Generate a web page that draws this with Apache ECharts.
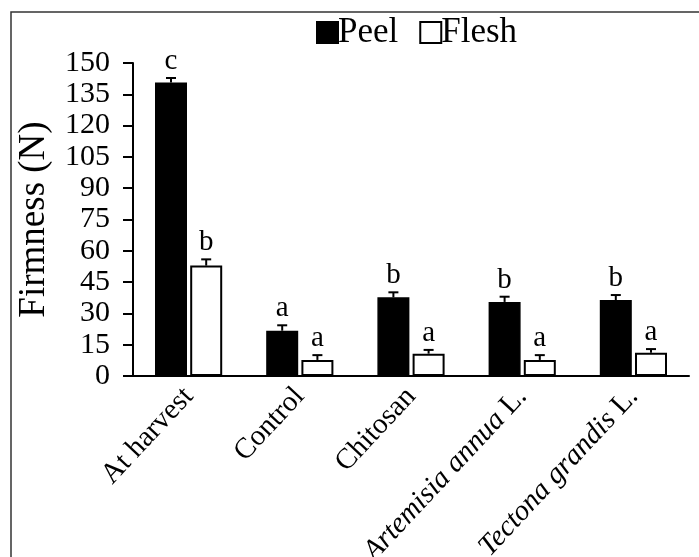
<!DOCTYPE html>
<html>
<head>
<meta charset="utf-8">
<script src="https://cdn.jsdelivr.net/npm/echarts@6/dist/echarts.min.js"></script>
<style>html,body{margin:0;padding:0;background:#fff}#c{width:699px;height:557px}</style>
</head>
<body>
<div id="c"></div>
<script>
const categories = ['At harvest', 'Control', 'Chitosan', 'Artemisia annua L.', 'Tectona grandis L.'];
const peelValues = [140.7, 21.7, 37.7, 35.5, 36.4];
const fleshValues = [52.9, 7.7, 10.7, 7.7, 11.2];
const peelErrors = [2.1, 2.6, 2.4, 2.5, 2.4];
const fleshErrors = [3.0, 2.3, 1.8, 2.3, 1.7];
const peelLetters = ['c', 'a', 'b', 'b', 'b'];
const fleshLetters = ['b', 'a', 'a', 'a', 'a'];
const yTicks = { min: 0, max: 150, interval: 15 };

const FONT = 'Liberation Serif';
const BAR_W = 32;
const GAP = 3.2;
const OFF = (BAR_W + GAP) / 2;

function errRender(offset, letters) {
  return function (params, api) {
    const i = api.value(0), v = api.value(1), e = api.value(2);
    const base = api.coord([i, v]);
    const top = api.coord([i, v + e]);
    const x = base[0] + offset;
    return {
      type: 'group',
      children: [
        { type: 'line', shape: { x1: x, y1: base[1], x2: x, y2: top[1] }, style: { stroke: '#000', lineWidth: 2 } },
        { type: 'line', shape: { x1: x - 5, y1: top[1], x2: x + 5, y2: top[1] }, style: { stroke: '#000', lineWidth: 2 } },
        { type: 'text', x: x, y: top[1] - 2, style: { text: letters[params.dataIndex], fill: '#000', font: '29px "' + FONT + '"', align: 'center', verticalAlign: 'bottom' } }
      ]
    };
  };
}

const chart = echarts.init(document.getElementById('c'), null, { renderer: 'canvas' });
chart.setOption({
  backgroundColor: '#fff',
  animation: false,
  graphic: [{
    type: 'rect', z: -10, silent: true,
    shape: { x: 11, y: 12, width: 720, height: 600 },
    style: { fill: 'none', stroke: '#333', lineWidth: 1.5 }
  }],
  legend: {
    top: 10, left: 311,
    itemWidth: 21, itemHeight: 21, itemGap: 21,
    icon: 'rect',
    textStyle: { fontFamily: FONT, fontSize: 35, color: '#000', padding: [0, 0, 0, -5] },
    data: ['Peel', 'Flesh']
  },
  grid: { left: 133, right: 10, top: 63, bottom: 181, containLabel: false, outerBoundsMode: 'none' },
  xAxis: {
    type: 'category', data: categories,
    axisTick: { show: false },
    axisLine: { lineStyle: { color: '#000', width: 2 } },
    axisLabel: {
      rotate: 47, margin: 16, color: '#000', fontFamily: FONT, fontSize: 29, interval: 0,
      formatter: function (v) {
        const m = v.match(/^(.*) (L\.)$/);
        if (m) return '{i|' + m[1] + '} L.';
        return v;
      },
      rich: { i: { fontStyle: 'italic', fontFamily: FONT, fontSize: 29, color: '#000' } }
    }
  },
  yAxis: {
    type: 'value', min: yTicks.min, max: yTicks.max, interval: yTicks.interval,
    name: 'Firmness (N)', nameLocation: 'middle', nameGap: 80,
    nameTextStyle: { fontFamily: FONT, fontSize: 37, color: '#000' },
    splitLine: { show: false },
    axisLine: { show: true, lineStyle: { color: '#000', width: 2 } },
    axisTick: { show: true, length: 10, lineStyle: { color: '#000', width: 2 } },
    axisLabel: { margin: 23, color: '#000', fontFamily: FONT, fontSize: 30 }
  },
  series: [
    {
      name: 'Peel', type: 'bar', data: peelValues, barWidth: BAR_W, barGap: (GAP / BAR_W * 100) + '%',
      itemStyle: { color: '#000', borderColor: '#000', borderWidth: 1.5 }
    },
    {
      name: 'Flesh', type: 'bar', data: fleshValues, barWidth: BAR_W,
      itemStyle: { color: '#fff', borderColor: '#000', borderWidth: 2 }
    },
    {
      type: 'custom', renderItem: errRender(-OFF, peelLetters),
      data: peelValues.map((v, i) => [i, v, peelErrors[i]]), z: 5
    },
    {
      type: 'custom', renderItem: errRender(OFF, fleshLetters),
      data: fleshValues.map((v, i) => [i, v, fleshErrors[i]]), z: 5
    }
  ]
});
</script>
</body>
</html>
